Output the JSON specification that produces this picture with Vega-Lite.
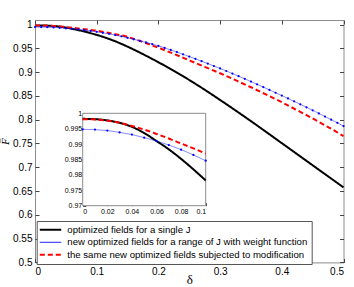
{
  "$schema": "https://vega.github.io/schema/vega-lite/v6.json",
  "width": 308.5,
  "height": 242.4,
  "autosize": {"type": "none"},
  "padding": {"left": 35, "top": 20, "right": 10.5, "bottom": 24.6},
  "background": "white",
  "config": {
    "view": {"stroke": "#8c8c8c", "strokeWidth": 1},
    "axis": {"grid": false, "domain": false, "labelFont": "Liberation Sans", "labelColor": "#000000", "tickColor": "#444444", "labelFontSize": 10, "tickSize": -4, "labelPadding": 7},
    "legend": {"title": null, "orient": "none", "legendX": 1.7, "legendY": 201, "strokeColor": "#555555", "fillColor": "#ffffff", "padding": 4, "labelFontSize": 9.6, "labelFont": "Liberation Sans", "labelLimit": 400, "symbolSize": 460, "symbolType": "stroke", "symbolStrokeWidth": 2, "rowPadding": 1.5, "labelOffset": 12, "symbolOffset": 5}
  },
  "datasets": {
    "curves": [
      {"s": "single", "d": 0, "v": 0.9982}, {"s": "single", "d": 0.01, "v": 0.9981}, {"s": "single", "d": 0.02, "v": 0.9977}, {"s": "single", "d": 0.03, "v": 0.9969}, {"s": "single", "d": 0.04, "v": 0.9956}, {"s": "single", "d": 0.05, "v": 0.9936}, {"s": "single", "d": 0.06, "v": 0.991}, {"s": "single", "d": 0.07, "v": 0.9883}, {"s": "single", "d": 0.08, "v": 0.9852}, {"s": "single", "d": 0.09, "v": 0.9818}, {"s": "single", "d": 0.1, "v": 0.9782},
      {"s": "single", "d": 0.125, "v": 0.9673}, {"s": "single", "d": 0.15, "v": 0.9535}, {"s": "single", "d": 0.175, "v": 0.9377}, {"s": "single", "d": 0.2, "v": 0.9207}, {"s": "single", "d": 0.225, "v": 0.9027}, {"s": "single", "d": 0.25, "v": 0.8834}, {"s": "single", "d": 0.275, "v": 0.8629}, {"s": "single", "d": 0.3, "v": 0.8414}, {"s": "single", "d": 0.325, "v": 0.8194}, {"s": "single", "d": 0.35, "v": 0.7969}, {"s": "single", "d": 0.375, "v": 0.7739}, {"s": "single", "d": 0.4, "v": 0.7506}, {"s": "single", "d": 0.425, "v": 0.7274}, {"s": "single", "d": 0.45, "v": 0.7041}, {"s": "single", "d": 0.475, "v": 0.6809}, {"s": "single", "d": 0.5, "v": 0.6576},
      {"s": "modified", "d": 0, "v": 0.9981}, {"s": "modified", "d": 0.01, "v": 0.998}, {"s": "modified", "d": 0.02, "v": 0.9976}, {"s": "modified", "d": 0.03, "v": 0.9969}, {"s": "modified", "d": 0.04, "v": 0.9959}, {"s": "modified", "d": 0.05, "v": 0.9947}, {"s": "modified", "d": 0.06, "v": 0.9933}, {"s": "modified", "d": 0.07, "v": 0.9918}, {"s": "modified", "d": 0.08, "v": 0.9902}, {"s": "modified", "d": 0.09, "v": 0.9886}, {"s": "modified", "d": 0.1, "v": 0.9869},
      {"s": "modified", "d": 0.125, "v": 0.981}, {"s": "modified", "d": 0.15, "v": 0.974}, {"s": "modified", "d": 0.175, "v": 0.9632}, {"s": "modified", "d": 0.2, "v": 0.9511}, {"s": "modified", "d": 0.225, "v": 0.9384}, {"s": "modified", "d": 0.25, "v": 0.9246}, {"s": "modified", "d": 0.275, "v": 0.911}, {"s": "modified", "d": 0.3, "v": 0.8976}, {"s": "modified", "d": 0.325, "v": 0.883}, {"s": "modified", "d": 0.35, "v": 0.8681}, {"s": "modified", "d": 0.375, "v": 0.8525}, {"s": "modified", "d": 0.4, "v": 0.8366}, {"s": "modified", "d": 0.425, "v": 0.8198}, {"s": "modified", "d": 0.45, "v": 0.8026}, {"s": "modified", "d": 0.475, "v": 0.7845}, {"s": "modified", "d": 0.5, "v": 0.7656},
      {"s": "weighted", "d": 0, "v": 0.9948}, {"s": "weighted", "d": 0.01, "v": 0.9947}, {"s": "weighted", "d": 0.02, "v": 0.9944}, {"s": "weighted", "d": 0.03, "v": 0.9938}, {"s": "weighted", "d": 0.04, "v": 0.9931}, {"s": "weighted", "d": 0.05, "v": 0.9921}, {"s": "weighted", "d": 0.06, "v": 0.991}, {"s": "weighted", "d": 0.07, "v": 0.9897}, {"s": "weighted", "d": 0.08, "v": 0.9882}, {"s": "weighted", "d": 0.09, "v": 0.9865}, {"s": "weighted", "d": 0.1, "v": 0.9846},
      {"s": "weighted", "d": 0.11, "v": 0.9826}, {"s": "weighted", "d": 0.12, "v": 0.9804}, {"s": "weighted", "d": 0.13, "v": 0.9779}, {"s": "weighted", "d": 0.14, "v": 0.9751}, {"s": "weighted", "d": 0.15, "v": 0.9721}, {"s": "weighted", "d": 0.16, "v": 0.969}, {"s": "weighted", "d": 0.17, "v": 0.9657}, {"s": "weighted", "d": 0.18, "v": 0.9623}, {"s": "weighted", "d": 0.19, "v": 0.9588}, {"s": "weighted", "d": 0.2, "v": 0.9551},
      {"s": "weighted", "d": 0.21, "v": 0.9509}, {"s": "weighted", "d": 0.22, "v": 0.9465}, {"s": "weighted", "d": 0.23, "v": 0.942}, {"s": "weighted", "d": 0.24, "v": 0.9374}, {"s": "weighted", "d": 0.25, "v": 0.9326}, {"s": "weighted", "d": 0.26, "v": 0.9278}, {"s": "weighted", "d": 0.27, "v": 0.9229}, {"s": "weighted", "d": 0.28, "v": 0.9179}, {"s": "weighted", "d": 0.29, "v": 0.9128}, {"s": "weighted", "d": 0.3, "v": 0.9076},
      {"s": "weighted", "d": 0.31, "v": 0.9023}, {"s": "weighted", "d": 0.32, "v": 0.8969}, {"s": "weighted", "d": 0.33, "v": 0.8914}, {"s": "weighted", "d": 0.34, "v": 0.8858}, {"s": "weighted", "d": 0.35, "v": 0.8801}, {"s": "weighted", "d": 0.36, "v": 0.8743}, {"s": "weighted", "d": 0.37, "v": 0.8685}, {"s": "weighted", "d": 0.38, "v": 0.8626}, {"s": "weighted", "d": 0.39, "v": 0.8566}, {"s": "weighted", "d": 0.4, "v": 0.8506},
      {"s": "weighted", "d": 0.41, "v": 0.8446}, {"s": "weighted", "d": 0.42, "v": 0.8385}, {"s": "weighted", "d": 0.43, "v": 0.8323}, {"s": "weighted", "d": 0.44, "v": 0.826}, {"s": "weighted", "d": 0.45, "v": 0.8196}, {"s": "weighted", "d": 0.46, "v": 0.8132}, {"s": "weighted", "d": 0.47, "v": 0.8066}, {"s": "weighted", "d": 0.48, "v": 0.8}, {"s": "weighted", "d": 0.49, "v": 0.7934}, {"s": "weighted", "d": 0.5, "v": 0.7866}
    ]
  },
  "data": {"name": "curves"},
  "layer": [
    {
      "layer": [
        {
          "encoding": {
            "x": {"field": "d", "type": "quantitative", "scale": {"domain": [0, 0.5], "nice": false, "zero": false},
                  "axis": {"orient": "bottom", "values": [0, 0.1, 0.2, 0.3, 0.4, 0.5], "labelExpr": "toString(round(datum.value*10)/10)", "title": "δ", "titleFont": "Liberation Serif", "titleFontSize": 13, "titleFontWeight": "normal", "titlePadding": -3, "labelPadding": 8}},
            "y": {"field": "v", "type": "quantitative", "scale": {"domain": [0.5, 1.0095], "nice": false, "zero": false},
                  "axis": {"orient": "left", "values": [0.5, 0.55, 0.6, 0.65, 0.7, 0.75, 0.8, 0.85, 0.9, 0.95, 1], "labelExpr": "toString(round(datum.value*100)/100)", "title": "F̅", "titleFont": "DejaVu Serif", "titleFontStyle": "italic", "titleFontSize": 9, "titleFontWeight": "normal", "titlePadding": 2}},
            "color": {"field": "s", "type": "nominal",
                      "scale": {"domain": ["single", "weighted", "modified"], "range": ["#000000", "#0000ff", "#ff0000"]},
                      "legend": {
                                 "labelExpr": "datum.value == 'single' ? 'optimized fields for a single J' : datum.value == 'weighted' ? 'new optimized fields for a range of J with weight function' : 'the same new optimized fields subjected to modification'",
                                 "encode": {"symbols": {"update": {"strokeWidth": {"signal": "datum.value == 'weighted' ? 1 : 2"}}}}}},
            "strokeDash": {"field": "s", "type": "nominal",
                      "scale": {"domain": ["single", "weighted", "modified"], "range": [[1, 0], [1, 0], [5, 3]]},
                      "legend": {
                                 "labelExpr": "datum.value == 'single' ? 'optimized fields for a single J' : datum.value == 'weighted' ? 'new optimized fields for a range of J with weight function' : 'the same new optimized fields subjected to modification'",
                                 "encode": {"symbols": {"update": {"strokeWidth": {"signal": "datum.value == 'weighted' ? 1 : 2"}}}}}}
          },
          "layer": [
            {"transform": [{"filter": "datum.s == 'single'"}], "mark": {"type": "line", "strokeWidth": 2, "interpolate": "monotone"}},
            {"transform": [{"filter": "datum.s == 'modified'"}], "mark": {"type": "line", "strokeWidth": 2, "interpolate": "monotone"}},
            {"transform": [{"filter": "datum.s == 'weighted'"}], "mark": {"type": "line", "strokeWidth": 1, "strokeOpacity": 0.5, "point": {"filled": true, "size": 5, "opacity": 1}}}
          ]
        },
        {
          "mark": {"type": "point", "opacity": 0},
          "encoding": {
            "x": {"field": "d", "type": "quantitative", "scale": {"domain": [0, 0.5], "nice": false, "zero": false},
                  "axis": {"orient": "top", "values": [0, 0.1, 0.2, 0.3, 0.4, 0.5], "labels": false, "title": null}},
            "y": {"field": "v", "type": "quantitative", "scale": {"domain": [0.5, 1.0095], "nice": false, "zero": false},
                  "axis": {"orient": "right", "values": [0.5, 0.55, 0.6, 0.65, 0.7, 0.75, 0.8, 0.85, 0.9, 0.95, 1], "labels": false, "title": null}}
          }
        }
      ],
      "resolve": {"axis": {"x": "independent", "y": "independent"}}
    },
    {
      "encoding": {
        "x": {"field": "d", "type": "quantitative", "scale": {"domain": [0, 0.1], "range": [47.7, 170.7], "nice": false, "zero": false},
              "axis": {"orient": "bottom", "offset": -56.7, "values": [0, 0.02, 0.04, 0.06, 0.08, 0.1], "labelExpr": "toString(round(datum.value*100)/100)", "title": null, "labelFontSize": 7, "tickSize": -3, "labelPadding": 5}},
        "y": {"field": "v", "type": "quantitative", "scale": {"domain": [0.97, 1], "range": [185.7, 93.3], "nice": false, "zero": false},
              "axis": {"orient": "left", "offset": -47.7, "values": [0.97, 0.975, 0.98, 0.985, 0.99, 0.995, 1], "labelExpr": "toString(round(datum.value*1000)/1000)", "title": null, "labelFontSize": 7, "tickSize": -3, "labelPadding": 4}}
      },
      "layer": [
        {
          "data": {"values": [{"d": 0, "d2": 0.1, "v": 0.97, "v2": 1}]},
          "mark": {"type": "rect", "fill": "#ffffff", "stroke": "#8c8c8c", "strokeWidth": 1},
          "encoding": {"x2": {"field": "d2"}, "y2": {"field": "v2"}}
        },
        {"transform": [{"filter": "datum.s == 'single' && datum.d <= 0.1001"}], "mark": {"type": "line", "strokeWidth": 2, "interpolate": "monotone"},
         "encoding": {"color": {"field": "s", "type": "nominal"}, "strokeDash": {"field": "s", "type": "nominal"}}},
        {"transform": [{"filter": "datum.s == 'modified' && datum.d <= 0.1001"}], "mark": {"type": "line", "strokeWidth": 2, "interpolate": "monotone"},
         "encoding": {"color": {"field": "s", "type": "nominal"}, "strokeDash": {"field": "s", "type": "nominal"}}},
        {"transform": [{"filter": "datum.s == 'weighted' && datum.d <= 0.1001"}], "mark": {"type": "line", "strokeWidth": 1, "strokeOpacity": 0.5, "point": {"filled": true, "size": 5, "opacity": 1}},
         "encoding": {"color": {"field": "s", "type": "nominal"}, "strokeDash": {"field": "s", "type": "nominal"}}}
      ]
    }
  ],
  "resolve": {"scale": {"x": "independent", "y": "independent"}}
}
